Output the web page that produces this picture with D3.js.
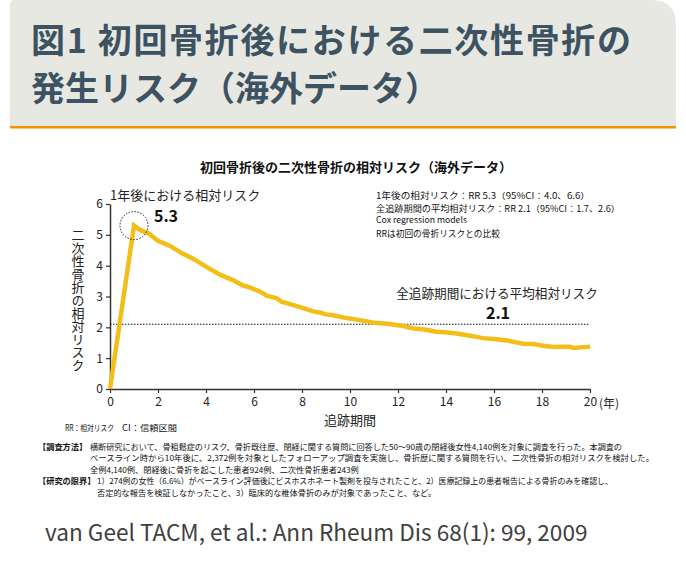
<!DOCTYPE html>
<html>
<head>
<meta charset="utf-8">
<script src="https://cdn.jsdelivr.net/npm/d3@7"></script>
<style>
  body { margin: 0; background: #fff; }
  svg text { font-family: 'Noto Sans CJK JP', sans-serif; }
</style>
</head>
<body>
<div class="canvas"></div>
<script>
// follow-up years and relative risk of secondary fracture
const years = [0, 1, 1.25, 1.6, 2, 2.5, 3, 3.5, 4, 4.6, 5.1, 5.5, 5.8, 6.25, 6.55, 6.95, 7.15, 7.65, 8.05, 8.5, 8.75, 9, 9.3, 9.85, 10.3, 11, 11.65, 12.15, 12.65, 13.05, 13.6, 14.05, 14.45, 15, 15.55, 16.1, 16.55, 17.2, 17.65, 18.05, 18.5, 18.75, 19.15, 19.3, 19.6, 20]
const risk = [0, 5.3, 5.16, 5.05, 4.81, 4.64, 4.4, 4.21, 3.97, 3.7, 3.54, 3.37, 3.3, 3.16, 3.02, 2.94, 2.83, 2.72, 2.62, 2.51, 2.48, 2.42, 2.39, 2.3, 2.25, 2.15, 2.11, 2.05, 1.96, 1.94, 1.86, 1.83, 1.8, 1.73, 1.65, 1.61, 1.57, 1.47, 1.46, 1.4, 1.36, 1.37, 1.37, 1.33, 1.35, 1.37]
const xTicks = [0, 2, 4, 6, 8, 10, 12, 14, 16, 18, 20]
const yTicks = [0, 1, 2, 3, 4, 5, 6]
const peak = { year: 1, rr: 5.3 }
const meanRR = 2.1

const titleLines = ['図1 初回骨折後における二次性骨折の', '発生リスク（海外データ）']
const chartTitle = '初回骨折後の二次性骨折の相対リスク（海外データ）'
const infoLines = [
    '1年後の相対リスク：RR 5.3（95%CI：4.0、6.6）',
    '全追跡期間の平均相対リスク：RR 2.1（95%CI：1.7、2.6）',
    'Cox regression models',
    'RRは初回の骨折リスクとの比較'
]
const notes = [
    { label: '【調査方法】', text: '横断研究において、骨粗鬆症のリスク、骨折既往歴、閉経に関する質問に回答した50～90歳の閉経後女性4,140例を対象に調査を行った。本調査の' },
    { label: '', text: 'ベースライン時から10年後に、2,372例を対象としたフォローアップ調査を実施し、骨折歴に関する質問を行い、二次性骨折の相対リスクを検討した。' },
    { label: '', text: '全例4,140例、閉経後に骨折を起こした患者924例、二次性骨折患者243例' },
    { label: '【研究の限界】', text: '1）274例の女性（6.6%）がベースライン評価後にビスホスホネート製剤を投与されたこと、2）医療記録上の患者報告による骨折のみを確認し、' },
    { label: '', text: '否定的な報告を検証しなかったこと、3）臨床的な椎体骨折のみが対象であったこと、など。' }
]
const citation = 'van Geel TACM, et al.: Ann Rheum Dis 68(1): 99, 2009'

const W = 686, H = 572
const svg = d3.select('.canvas')
    .append('svg')
    .attr('width', W)
    .attr('height', H)

// header box
svg.append('path')
    .attr('d', 'M10,4 Q10,0 14,0 L651,0 Q676,0 676,25 L676,127 L10,127 Z')
    .attr('fill', '#e8e8e3')
svg.append('rect')
    .attr('x', 10).attr('y', 126)
    .attr('width', 666).attr('height', 2.5)
    .attr('fill', '#f39200')

svg.selectAll('.title-line')
    .data(titleLines)
    .join('text')
    .attr('class', 'title-line')
    .attr('x', 31)
    .attr('y', (d, i) => 53 + i * 48)
    .attr('font-size', 34)
    .attr('font-weight', 700)
    .attr('fill', '#3d5361')
    .attr('textLength', (d, i) => i === 0 ? 600 : null)
    .attr('lengthAdjust', 'spacing')
    .text(d => d)

// chart
const x = d3.scaleLinear().domain([0, 20]).range([110, 590])
const y = d3.scaleLinear().domain([0, 6]).range([389, 204])

svg.append('text')
    .attr('x', 356).attr('y', 172)
    .attr('text-anchor', 'middle')
    .attr('font-size', 13)
    .attr('font-weight', 700)
    .attr('fill', '#111')
    .text(chartTitle)

const xAxis = svg.append('g')
    .attr('transform', `translate(0, ${y(0)})`)
    .call(d3.axisBottom(x).tickValues(xTicks).tickSize(4).tickSizeOuter(0).tickFormat(d3.format('d')))
const yAxis = svg.append('g')
    .attr('transform', `translate(${x(0)}, 0)`)
    .call(d3.axisLeft(y).tickValues(yTicks).tickSize(4).tickSizeOuter(0).tickFormat(d3.format('d')))

;[xAxis, yAxis].forEach(ax => {
    ax.select('.domain').attr('stroke', '#333').attr('stroke-width', 1.5)
    ax.selectAll('.tick line').attr('stroke', '#333').attr('stroke-width', 1.2)
    ax.selectAll('.tick text')
        .attr('font-size', 12)
        .attr('fill', '#222')
        .style('font-family', "'Noto Sans CJK JP', sans-serif")
})
xAxis.selectAll('.tick text').attr('dy', '0.85em')
yAxis.selectAll('.tick text').attr('x', -7)

svg.append('text')
    .attr('x', x(20) + 9).attr('y', 408)
    .attr('font-size', 12)
    .attr('fill', '#222')
    .text('(年)')

svg.append('text')
    .attr('x', 350).attr('y', 425)
    .attr('text-anchor', 'middle')
    .attr('font-size', 13)
    .attr('fill', '#222')
    .text('追跡期間')

svg.append('text')
    .attr('x', 78).attr('y', 300)
    .attr('text-anchor', 'middle')
    .attr('font-size', 13)
    .attr('fill', '#222')
    .style('writing-mode', 'vertical-rl')
    .style('text-orientation', 'upright')
    .text('二次性骨折の相対リスク')

// mean risk reference line
svg.append('line')
    .attr('x1', x(0)).attr('x2', x(20))
    .attr('y1', y(meanRR)).attr('y2', y(meanRR))
    .attr('stroke', '#111')
    .attr('stroke-width', 1)
    .attr('stroke-dasharray', '1.5,1.5')

const line = d3.line()
    .x((d, i) => x(years[i]))
    .y(d => y(d))

svg.append('path')
    .datum(risk)
    .attr('d', line)
    .attr('fill', 'none')
    .attr('stroke', '#f2be17')
    .attr('stroke-width', 4.5)

// peak marker
svg.append('circle')
    .attr('cx', x(peak.year)).attr('cy', y(peak.rr))
    .attr('r', 14)
    .attr('fill', 'none')
    .attr('stroke', '#222')
    .attr('stroke-width', 1)
    .attr('stroke-dasharray', '1.5,1.5')

svg.append('text')
    .attr('x', 110).attr('y', 200)
    .attr('font-size', 13)
    .attr('fill', '#222')
    .text('1年後における相対リスク')
svg.append('text')
    .attr('x', 166).attr('y', 221.5)
    .attr('text-anchor', 'middle')
    .attr('font-size', 16)
    .attr('font-weight', 700)
    .attr('fill', '#111')
    .text(peak.rr.toFixed(1))

svg.append('text')
    .attr('x', 497).attr('y', 298)
    .attr('text-anchor', 'middle')
    .attr('font-size', 12.6)
    .attr('fill', '#222')
    .text('全追跡期間における平均相対リスク')
svg.append('text')
    .attr('x', 498).attr('y', 319)
    .attr('text-anchor', 'middle')
    .attr('font-size', 16)
    .attr('font-weight', 700)
    .attr('fill', '#111')
    .text(meanRR.toFixed(1))

svg.selectAll('.info')
    .data(infoLines)
    .join('text')
    .attr('class', 'info')
    .attr('x', 376)
    .attr('y', (d, i) => [199, 211.5, 222.5, 237][i])
    .attr('font-size', 8.7)
    .attr('fill', '#111')
    .attr('textLength', (d, i) => [214, 244, null, null][i])
    .attr('lengthAdjust', 'spacingAndGlyphs')
    .text(d => d)

// abbreviations
svg.append('text')
    .attr('x', 65).attr('y', 431)
    .attr('font-size', 8.5)
    .attr('fill', '#111')
    .attr('textLength', 49)
    .attr('lengthAdjust', 'spacingAndGlyphs')
    .text('RR：相対リスク')
svg.append('text')
    .attr('x', 122).attr('y', 431)
    .attr('font-size', 8.5)
    .attr('fill', '#111')
    .attr('textLength', 55)
    .attr('lengthAdjust', 'spacingAndGlyphs')
    .text('CI：信頼区間')

// study notes
const noteRows = svg.selectAll('.note')
    .data(notes)
    .join('g')
    .attr('class', 'note')
    .attr('transform', (d, i) => `translate(0, ${450 + i * 11.4})`)
noteRows.append('text')
    .attr('x', 38)
    .attr('font-size', 8.2)
    .attr('font-weight', 700)
    .attr('fill', '#111')
    .text(d => d.label)
noteRows.append('text')
    .attr('x', (d, i) => i < 3 ? 90 : 97)
    .attr('font-size', 8.2)
    .attr('fill', '#111')
    .attr('textLength', (d, i) => [532, 564, null, 516, null][i])
    .attr('lengthAdjust', 'spacingAndGlyphs')
    .text(d => d.text)

svg.append('text')
    .attr('x', 45).attr('y', 541)
    .attr('font-size', 22.6)
    .attr('fill', '#404040')
    .text(citation)
</script>
</body>
</html>
